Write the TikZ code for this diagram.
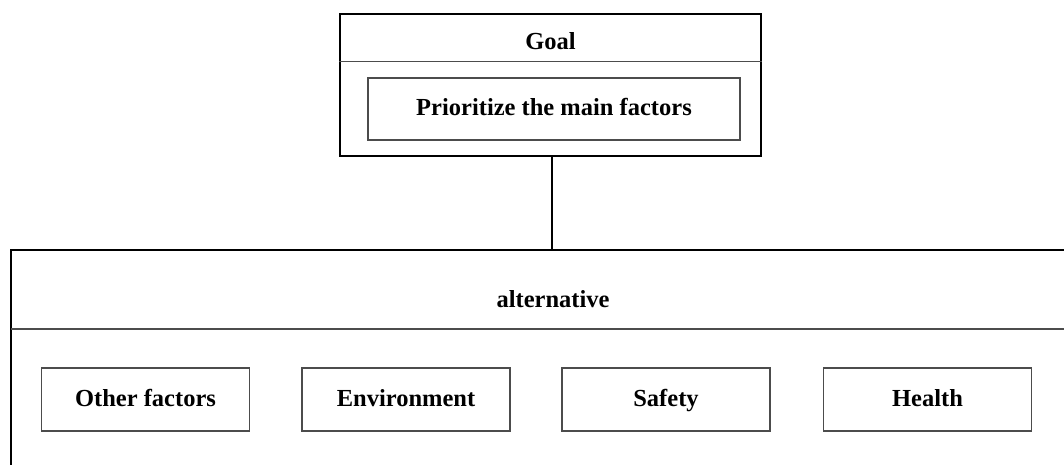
\documentclass[tikz,border=0pt]{standalone}
\usepackage{fontspec}
\setmainfont{Liberation Serif}

\begin{document}
\begin{tikzpicture}[x=1pt, y=1pt]
				\tikzstyle{every node}=[inner sep=1pt, align=center, font=\fontsize{24.5}{28}\selectfont\bfseries]
				\tikzstyle{factor}=[draw=black!70, line width=1.3pt, minimum width=208pt, minimum height=63pt, text height=17pt, text depth=3pt]
				\useasboundingbox (0, 0) rectangle (1064, 465);
				\node [draw, line width=1.3pt, minimum width=421pt, minimum height=142pt] (GoalBox) at (550.5, 380) {};
				\node (Goal) at (550.5, 424) {Goal};
				\draw [draw=black!70, line width=1.3pt] ([yshift=-48pt]GoalBox.north west) -- ([yshift=-48pt]GoalBox.north east);
				\node [factor, minimum width=372pt, minimum height=62pt] (Prioritize) at (554, 356) {Prioritize the main factors};
				\coordinate (AltTop) at (552, 215);
				\draw [line width=1.3pt] (1064, 215) -- (11, 215) -- (11, 0);
				\draw [draw=black!70, line width=1.3pt] (11, 136) -- (1064, 136);
				\node (Alternative) at (553, 166) {alternative};
				\draw [line width=1.3pt] (GoalBox.south -| AltTop) -- (AltTop);
				\node [factor] (Other) at (145.5, 65.5) {Other factors};
				\node [factor] (Environment) at (406, 65.5) {Environment};
				\node [factor] (Safety) at (666, 65.5) {Safety};
				\node [factor] (Health) at (927.5, 65.5) {Health};
		\end{tikzpicture}
\end{document}
